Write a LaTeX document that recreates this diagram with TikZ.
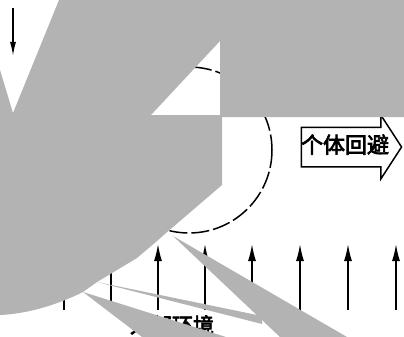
\documentclass[tikz,border=0pt]{standalone}
\usepackage{fontspec}
\newfontfamily\cjk[AutoFakeBold=3]{Noto Sans CJK SC}
\usetikzlibrary{shapes.arrows,arrows.meta,positioning}
\definecolor{maskgray}{RGB}{179,179,179}

\begin{document}
\begin{tikzpicture}
[x=1pt,y=-1pt,>={Latex[length=17pt,width=8pt]},line width=1.5pt,
 avoidbox/.style={draw,shape=single arrow,single arrow head extend=12pt,
   single arrow tip angle=114,inner xsep=-1pt,inner ysep=9pt,
   text height=16pt,text depth=4pt,font=\cjk\bfseries\fontsize{22}{22}\selectfont},
 envtext/.style={font=\cjk\bfseries\fontsize{21}{21}\selectfont},
 mask/.style={fill=maskgray}]
  \useasboundingbox (0,0) rectangle (404,337);
%
  \node[avoidbox] (avoid) at (345,147) {个体回避};
  \node[envtext] (env) at (172,325) {外部环境};
  \draw[dash pattern=on 18pt off 4pt] (189,150) circle (83);
%
  \coordinate (intop) at (13,8);
  \coordinate (inend) at (13,56);
  \draw[->,>={Latex[length=14pt,width=6pt]}] (intop) -- (inend);
  \foreach \x [count=\i] in {64,111,158,205,252,300,348,396}
  {
    \coordinate (foot\i) at (\x,310);
    \coordinate (tip\i) at (\x,244);
    \draw[->] (foot\i) -- (tip\i);
  }
%
  \fill[mask,even odd rule] (0,70) -- (13,113) -- (59,0) -- (404,0) -- (404,117)
    -- (222,117) -- (222,185) -- (166,233) -- (157,241) -- (137,258) -- (97,282)
    -- (83,292) .. controls (55,306) and (25,314) .. (0,315) -- cycle
    (151,115) -- (220,41) -- (220,115) -- cycle;
  \fill[mask] (173,236) -- (347,337) -- (280,337) -- cycle;
  \fill[mask] (97,282) -- (262,316) -- (262,324) -- cycle;
  \fill[mask] (83,292) -- (226,337) -- (142,337) -- cycle;
\end{tikzpicture}
\end{document}
